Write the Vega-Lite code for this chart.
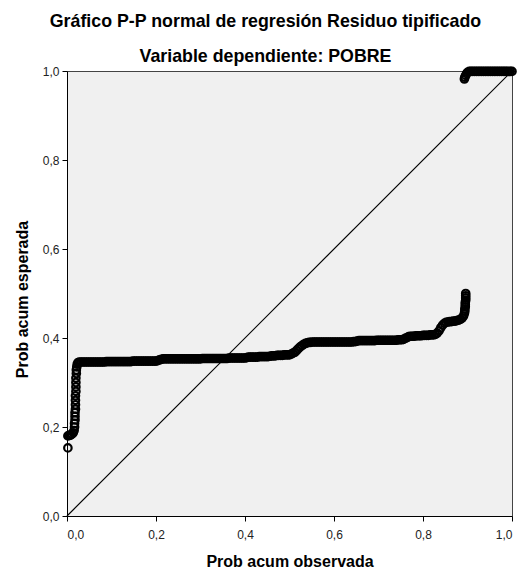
{
  "$schema": "https://vega.github.io/schema/vega-lite/v6.json",
  "width": 445,
  "height": 445,
  "autosize": {"type": "none"},
  "padding": {"left": 67, "top": 71, "right": 12, "bottom": 55},
  "background": "white",
  "title": {
    "text": "Gráfico P-P normal de regresión Residuo tipificado",
    "subtitle": "Variable dependiente: POBRE",
    "anchor": "middle",
    "dx": -24,
    "font": "Liberation Sans",
    "fontSize": 17.8,
    "fontWeight": "bold",
    "color": "#000000",
    "subtitleFont": "Liberation Sans",
    "subtitleFontSize": 17.8,
    "subtitleFontWeight": "bold",
    "subtitleColor": "#000000",
    "subtitlePadding": 17,
    "offset": -2
  },
  "config": {
    "view": {"fill": "#f0f0f0", "stroke": "#444444", "strokeWidth": 1},
    "axis": {
      "grid": false,
      "domainColor": "#000000",
      "domainWidth": 1,
      "tickColor": "#000000",
      "tickSize": 5,
      "labelFont": "Liberation Sans",
      "labelFontSize": 12,
      "labelColor": "#222222",
      "titleFont": "Liberation Sans",
      "titleFontSize": 16,
      "titleFontWeight": "bold",
      "titleColor": "#000000"
    }
  },
  "data": {
    "values": [
      {"x": 0.002, "y": 0.153},
      {"x": 0.002, "y": 0.18}, {"x": 0.005, "y": 0.181}, {"x": 0.008, "y": 0.182}, {"x": 0.011, "y": 0.184}, {"x": 0.014, "y": 0.187}, {"x": 0.016, "y": 0.192},
      {"x": 0.017, "y": 0.2}, {"x": 0.017, "y": 0.208}, {"x": 0.018, "y": 0.216}, {"x": 0.018, "y": 0.224}, {"x": 0.018, "y": 0.232}, {"x": 0.019, "y": 0.24}, {"x": 0.019, "y": 0.25}, {"x": 0.019, "y": 0.26}, {"x": 0.019, "y": 0.27}, {"x": 0.02, "y": 0.28}, {"x": 0.02, "y": 0.29}, {"x": 0.02, "y": 0.3}, {"x": 0.02, "y": 0.31}, {"x": 0.021, "y": 0.32}, {"x": 0.021, "y": 0.328}, {"x": 0.022, "y": 0.335}, {"x": 0.023, "y": 0.341}, {"x": 0.025, "y": 0.345},
      {"x": 0.028, "y": 0.346}, {"x": 0.032, "y": 0.346}, {"x": 0.036, "y": 0.346}, {"x": 0.04, "y": 0.346}, {"x": 0.044, "y": 0.346}, {"x": 0.048, "y": 0.346}, {"x": 0.052, "y": 0.346}, {"x": 0.056, "y": 0.346}, {"x": 0.06, "y": 0.346}, {"x": 0.064, "y": 0.346}, {"x": 0.068, "y": 0.346}, {"x": 0.072, "y": 0.346}, {"x": 0.076, "y": 0.346}, {"x": 0.08, "y": 0.346}, {"x": 0.084, "y": 0.346},
      {"x": 0.088, "y": 0.347}, {"x": 0.092, "y": 0.347}, {"x": 0.096, "y": 0.347}, {"x": 0.1, "y": 0.347}, {"x": 0.104, "y": 0.347}, {"x": 0.108, "y": 0.347}, {"x": 0.112, "y": 0.347}, {"x": 0.116, "y": 0.347}, {"x": 0.12, "y": 0.347}, {"x": 0.124, "y": 0.347}, {"x": 0.128, "y": 0.347}, {"x": 0.132, "y": 0.347}, {"x": 0.136, "y": 0.347}, {"x": 0.14, "y": 0.347}, {"x": 0.144, "y": 0.347},
      {"x": 0.148, "y": 0.348}, {"x": 0.152, "y": 0.348}, {"x": 0.156, "y": 0.348}, {"x": 0.16, "y": 0.348}, {"x": 0.164, "y": 0.348}, {"x": 0.168, "y": 0.348}, {"x": 0.172, "y": 0.348}, {"x": 0.176, "y": 0.348}, {"x": 0.18, "y": 0.348}, {"x": 0.184, "y": 0.348}, {"x": 0.188, "y": 0.348}, {"x": 0.192, "y": 0.348}, {"x": 0.196, "y": 0.348}, {"x": 0.2, "y": 0.348},
      {"x": 0.204, "y": 0.349}, {"x": 0.208, "y": 0.351}, {"x": 0.212, "y": 0.352},
      {"x": 0.216, "y": 0.353}, {"x": 0.22, "y": 0.353}, {"x": 0.224, "y": 0.353}, {"x": 0.228, "y": 0.353}, {"x": 0.232, "y": 0.353}, {"x": 0.236, "y": 0.353}, {"x": 0.24, "y": 0.353}, {"x": 0.244, "y": 0.353}, {"x": 0.248, "y": 0.353}, {"x": 0.252, "y": 0.353}, {"x": 0.256, "y": 0.353}, {"x": 0.26, "y": 0.353}, {"x": 0.264, "y": 0.353}, {"x": 0.268, "y": 0.353}, {"x": 0.272, "y": 0.353}, {"x": 0.276, "y": 0.353}, {"x": 0.28, "y": 0.353}, {"x": 0.284, "y": 0.353}, {"x": 0.288, "y": 0.353}, {"x": 0.292, "y": 0.353}, {"x": 0.296, "y": 0.353}, {"x": 0.3, "y": 0.353},
      {"x": 0.304, "y": 0.354}, {"x": 0.308, "y": 0.354}, {"x": 0.312, "y": 0.354}, {"x": 0.316, "y": 0.354}, {"x": 0.32, "y": 0.354}, {"x": 0.324, "y": 0.354}, {"x": 0.328, "y": 0.354}, {"x": 0.332, "y": 0.354}, {"x": 0.336, "y": 0.354}, {"x": 0.34, "y": 0.354}, {"x": 0.344, "y": 0.354}, {"x": 0.348, "y": 0.354}, {"x": 0.352, "y": 0.354}, {"x": 0.356, "y": 0.354}, {"x": 0.36, "y": 0.354},
      {"x": 0.364, "y": 0.355}, {"x": 0.368, "y": 0.355}, {"x": 0.372, "y": 0.355}, {"x": 0.376, "y": 0.355}, {"x": 0.38, "y": 0.355}, {"x": 0.384, "y": 0.355}, {"x": 0.388, "y": 0.355}, {"x": 0.392, "y": 0.355}, {"x": 0.396, "y": 0.355}, {"x": 0.4, "y": 0.355},
      {"x": 0.404, "y": 0.356}, {"x": 0.408, "y": 0.357}, {"x": 0.412, "y": 0.357}, {"x": 0.416, "y": 0.357}, {"x": 0.42, "y": 0.357}, {"x": 0.424, "y": 0.357}, {"x": 0.428, "y": 0.357}, {"x": 0.432, "y": 0.358}, {"x": 0.436, "y": 0.358}, {"x": 0.44, "y": 0.358}, {"x": 0.444, "y": 0.358}, {"x": 0.448, "y": 0.358}, {"x": 0.452, "y": 0.358}, {"x": 0.456, "y": 0.359},
      {"x": 0.46, "y": 0.36}, {"x": 0.464, "y": 0.36}, {"x": 0.468, "y": 0.36}, {"x": 0.472, "y": 0.361}, {"x": 0.476, "y": 0.361}, {"x": 0.48, "y": 0.361}, {"x": 0.484, "y": 0.361}, {"x": 0.488, "y": 0.362}, {"x": 0.492, "y": 0.362}, {"x": 0.496, "y": 0.362}, {"x": 0.5, "y": 0.362},
      {"x": 0.504, "y": 0.364}, {"x": 0.508, "y": 0.366}, {"x": 0.512, "y": 0.368}, {"x": 0.516, "y": 0.372}, {"x": 0.52, "y": 0.376}, {"x": 0.524, "y": 0.38}, {"x": 0.528, "y": 0.383}, {"x": 0.532, "y": 0.386}, {"x": 0.536, "y": 0.388}, {"x": 0.54, "y": 0.389}, {"x": 0.544, "y": 0.39},
      {"x": 0.548, "y": 0.39}, {"x": 0.552, "y": 0.391}, {"x": 0.556, "y": 0.391}, {"x": 0.56, "y": 0.391}, {"x": 0.564, "y": 0.391}, {"x": 0.568, "y": 0.391}, {"x": 0.572, "y": 0.391}, {"x": 0.576, "y": 0.391}, {"x": 0.58, "y": 0.391}, {"x": 0.584, "y": 0.391}, {"x": 0.588, "y": 0.391}, {"x": 0.592, "y": 0.391}, {"x": 0.596, "y": 0.391}, {"x": 0.6, "y": 0.391}, {"x": 0.604, "y": 0.391}, {"x": 0.608, "y": 0.391}, {"x": 0.612, "y": 0.391}, {"x": 0.616, "y": 0.391}, {"x": 0.62, "y": 0.391}, {"x": 0.624, "y": 0.391}, {"x": 0.628, "y": 0.391}, {"x": 0.632, "y": 0.391}, {"x": 0.636, "y": 0.391}, {"x": 0.64, "y": 0.391}, {"x": 0.644, "y": 0.392}, {"x": 0.648, "y": 0.392},
      {"x": 0.652, "y": 0.393}, {"x": 0.656, "y": 0.394}, {"x": 0.66, "y": 0.394}, {"x": 0.664, "y": 0.394}, {"x": 0.668, "y": 0.394}, {"x": 0.672, "y": 0.394}, {"x": 0.676, "y": 0.394}, {"x": 0.68, "y": 0.394}, {"x": 0.684, "y": 0.394}, {"x": 0.688, "y": 0.394}, {"x": 0.692, "y": 0.394}, {"x": 0.696, "y": 0.395}, {"x": 0.7, "y": 0.395}, {"x": 0.704, "y": 0.395}, {"x": 0.708, "y": 0.395}, {"x": 0.712, "y": 0.395}, {"x": 0.716, "y": 0.395}, {"x": 0.72, "y": 0.395}, {"x": 0.724, "y": 0.395}, {"x": 0.728, "y": 0.395}, {"x": 0.732, "y": 0.395}, {"x": 0.736, "y": 0.395}, {"x": 0.74, "y": 0.395}, {"x": 0.744, "y": 0.396}, {"x": 0.748, "y": 0.396}, {"x": 0.752, "y": 0.396}, {"x": 0.756, "y": 0.397},
      {"x": 0.76, "y": 0.399}, {"x": 0.764, "y": 0.401}, {"x": 0.768, "y": 0.403}, {"x": 0.772, "y": 0.404}, {"x": 0.776, "y": 0.404}, {"x": 0.78, "y": 0.404}, {"x": 0.784, "y": 0.405}, {"x": 0.788, "y": 0.405}, {"x": 0.792, "y": 0.405}, {"x": 0.796, "y": 0.405}, {"x": 0.8, "y": 0.406}, {"x": 0.804, "y": 0.406}, {"x": 0.808, "y": 0.406}, {"x": 0.812, "y": 0.406}, {"x": 0.816, "y": 0.407}, {"x": 0.82, "y": 0.407}, {"x": 0.824, "y": 0.407}, {"x": 0.828, "y": 0.408},
      {"x": 0.832, "y": 0.411}, {"x": 0.836, "y": 0.416}, {"x": 0.84, "y": 0.423}, {"x": 0.844, "y": 0.429}, {"x": 0.848, "y": 0.433}, {"x": 0.852, "y": 0.435}, {"x": 0.856, "y": 0.436}, {"x": 0.86, "y": 0.437}, {"x": 0.864, "y": 0.437}, {"x": 0.868, "y": 0.438}, {"x": 0.872, "y": 0.438}, {"x": 0.876, "y": 0.439}, {"x": 0.88, "y": 0.44}, {"x": 0.884, "y": 0.442}, {"x": 0.888, "y": 0.445}, {"x": 0.891, "y": 0.449},
      {"x": 0.893, "y": 0.455}, {"x": 0.894, "y": 0.46}, {"x": 0.894, "y": 0.465}, {"x": 0.895, "y": 0.47}, {"x": 0.895, "y": 0.475}, {"x": 0.895, "y": 0.48}, {"x": 0.896, "y": 0.485}, {"x": 0.896, "y": 0.49}, {"x": 0.896, "y": 0.495}, {"x": 0.896, "y": 0.5},
      {"x": 0.893, "y": 0.982}, {"x": 0.894, "y": 0.986}, {"x": 0.896, "y": 0.99}, {"x": 0.898, "y": 0.994}, {"x": 0.9, "y": 0.997},
      {"x": 0.904, "y": 0.999}, {"x": 0.908, "y": 0.999}, {"x": 0.912, "y": 0.999}, {"x": 0.916, "y": 0.999}, {"x": 0.92, "y": 0.999}, {"x": 0.924, "y": 0.999}, {"x": 0.928, "y": 0.999}, {"x": 0.932, "y": 0.999}, {"x": 0.936, "y": 0.999}, {"x": 0.94, "y": 0.999}, {"x": 0.944, "y": 0.999}, {"x": 0.948, "y": 0.999}, {"x": 0.952, "y": 0.999}, {"x": 0.956, "y": 0.999}, {"x": 0.96, "y": 0.999}, {"x": 0.964, "y": 0.999}, {"x": 0.968, "y": 0.999}, {"x": 0.972, "y": 0.999}, {"x": 0.976, "y": 0.999}, {"x": 0.98, "y": 0.999}, {"x": 0.984, "y": 0.999}, {"x": 0.988, "y": 0.999}, {"x": 0.992, "y": 0.999}, {"x": 0.996, "y": 0.999}, {"x": 1.0, "y": 0.999}
    ]
  },
  "layer": [
    {
      "data": {"values": [{"x": 0, "y": 0}, {"x": 1, "y": 1}]},
      "mark": {"type": "line", "color": "#000000", "strokeWidth": 1.2},
      "encoding": {
        "x": {"field": "x", "type": "quantitative"},
        "y": {"field": "y", "type": "quantitative"}
      }
    },
    {
      "mark": {"type": "point", "shape": "circle", "filled": false, "size": 56, "strokeWidth": 2.2, "color": "#000000", "opacity": 1},
      "encoding": {
        "x": {
          "field": "x", "type": "quantitative",
          "scale": {"domain": [0, 1], "nice": false},
          "axis": {
            "title": "Prob acum observada",
            "values": [0, 0.2, 0.4, 0.6, 0.8, 1],
            "labelExpr": "replace(format(datum.value, '.1f'), '.', ',')",
            "labelPadding": 8,
            "titleBaseline": "alphabetic",
            "titleY": 50
          }
        },
        "y": {
          "field": "y", "type": "quantitative",
          "scale": {"domain": [0, 1], "nice": false},
          "axis": {
            "title": "Prob acum esperada",
            "values": [0, 0.2, 0.4, 0.6, 0.8, 1],
            "labelExpr": "replace(format(datum.value, '.1f'), '.', ',')",
            "labelPadding": 3,
            "titleAngle": -90,
            "titleBaseline": "alphabetic",
            "titleX": -40,
            "titleY": 228
          }
        }
      }
    }
  ]
}
